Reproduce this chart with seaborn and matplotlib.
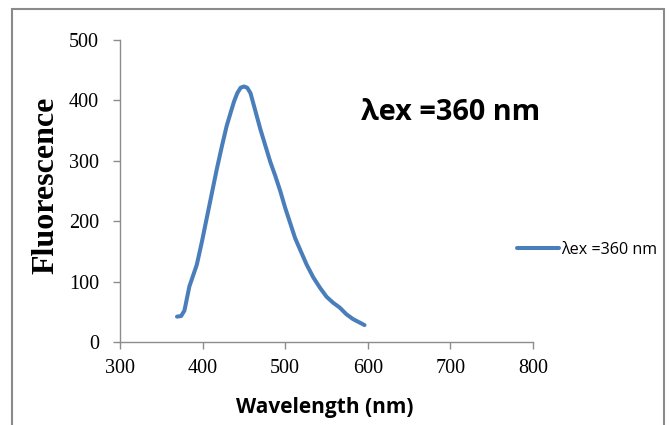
import matplotlib
matplotlib.use("Agg")
import matplotlib.pyplot as plt
import seaborn as sns
import pandas as pd
from matplotlib.patches import Rectangle

# Emission spectrum (excitation at 360 nm)
wavelength = [369, 374, 378, 381, 384, 388, 393, 399, 405, 411, 417, 423, 429, 434,
              438, 442, 446, 450, 454, 458, 462, 466, 470, 476, 482, 488, 494, 500,
              506, 512, 518, 526, 534, 542, 550, 558, 566, 574, 582, 589, 596]
fluorescence = [42, 43, 52, 72, 92, 108, 128, 165, 205, 245, 285, 322, 357, 380,
                398, 412, 421, 423, 421, 412, 392, 372, 352, 325, 298, 275, 250, 222,
                197, 172, 153, 128, 107, 90, 75, 65, 57, 46, 38, 33, 28]
series_label = "λex =360 nm"
x_ticks = [300, 400, 500, 600, 700, 800]
y_ticks = [0, 100, 200, 300, 400, 500]

df = pd.DataFrame({"Wavelength": wavelength, "Fluorescence": fluorescence,
                   "series": series_label})

sns.set_theme(style="white")
plt.rcParams["font.family"] = ["DejaVu Sans"]
plt.rcParams["text.color"] = "black"

fig = plt.figure(figsize=(6.7, 4.25), dpi=100)
ax = fig.add_axes([120 / 670, 1 - 342 / 425, 413 / 670, 302 / 425])

sns.lineplot(data=df, x="Wavelength", y="Fluorescence", hue="series",
             palette=["#4a7ebb"], linewidth=2.9, ax=ax, legend=True,
             estimator=None, sort=False)

ax.set_xlim(300, 800)
ax.set_ylim(0, 500)
ax.set_xticks(x_ticks)
ax.set_yticks(y_ticks)
ax.set_xticklabels([str(v) for v in x_ticks], family="Liberation Serif", fontsize=14.5)
ax.set_yticklabels([str(v) for v in y_ticks], family="Liberation Serif", fontsize=14.5)

for side in ("top", "right"):
    ax.spines[side].set_visible(False)
for side in ("left", "bottom"):
    ax.spines[side].set_color("#8c8c8c")
    ax.spines[side].set_linewidth(1.0)
ax.tick_params(axis="both", which="major", bottom=True, left=True,
               direction="out", length=5, width=1.0,
               color="#8c8c8c", labelcolor="black")
ax.tick_params(axis="y", pad=10)
ax.tick_params(axis="x", pad=7)

ax.set_xlabel("")
ax.set_ylabel("")
fig.text(325 / 670, 1 - 407 / 425, "Wavelength (nm)", family="Open Sans",
         fontweight="bold", fontsize=15, ha="center", va="center", color="black")
fig.text(46 / 670, 1 - 185 / 425, "Fluorescence", family="Liberation Serif",
         fontweight="bold", fontsize=23, rotation=90, ha="center", va="center",
         color="black")

ax.text(451 / 670, 1 - 113 / 425, series_label, transform=fig.transFigure,
        family="Open Sans", fontweight="bold", fontsize=20.8, ha="center", va="center",
        color="black")

leg = ax.legend(loc="center left", bbox_to_anchor=(511 / 670, 1 - 250 / 425),
                bbox_transform=fig.transFigure, frameon=False, handlelength=2.6,
                handletextpad=0.1, borderaxespad=0, prop={"family": "Open Sans", "size": 11.6})
for t in leg.get_texts():
    t.set_color("black")

# Outer chart frame
fig.patches.append(Rectangle((12 / 670, -0.05), 652 / 670, 1.05 - 9 / 425,
                             transform=fig.transFigure, fill=False,
                             edgecolor="#8a8a8a", linewidth=1.5))

fig.savefig("out.png", dpi=100)
